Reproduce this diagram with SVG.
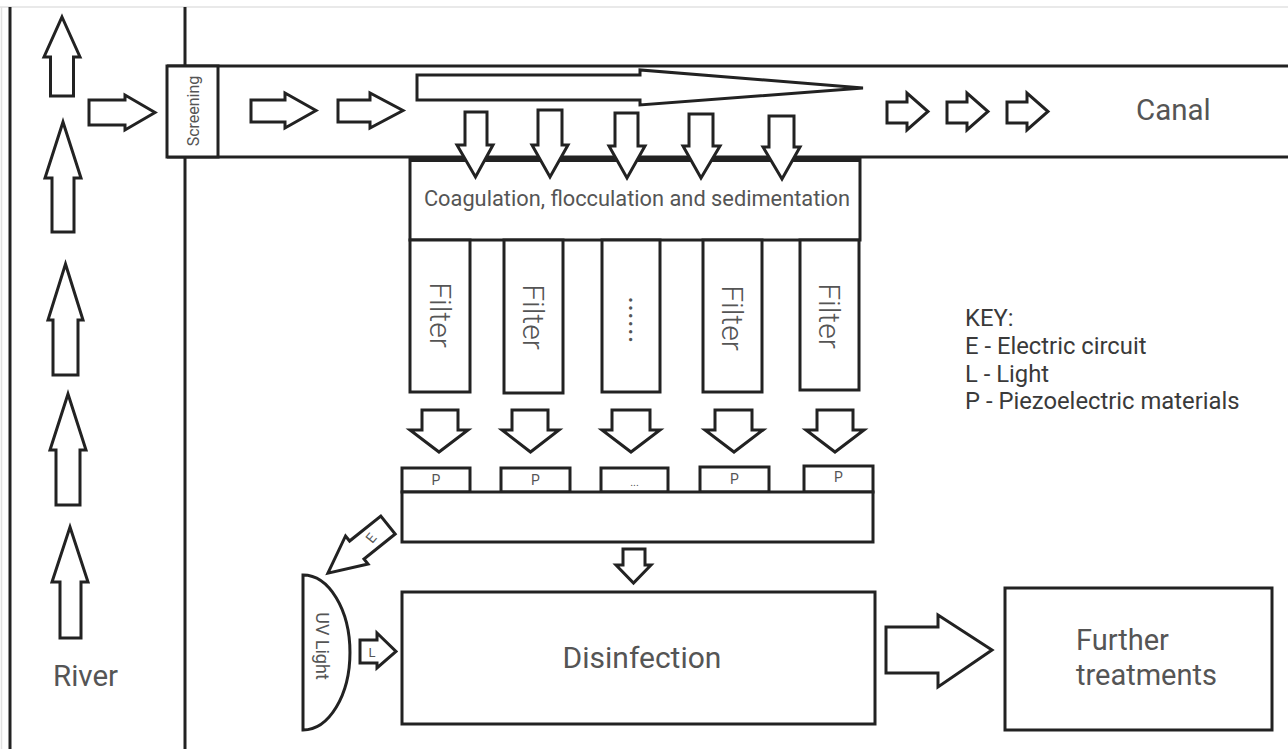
<svg xmlns="http://www.w3.org/2000/svg" width="1288" height="749" viewBox="0 0 1288 749">
<style>
  .ln { stroke:#222; stroke-width:3; fill:none; }
  .bx { stroke:#222; stroke-width:3; fill:#fff; }
  .ar { stroke:#222; stroke-width:3; fill:#fff; stroke-linejoin:miter; }
  .t { font-family:Roboto, "Liberation Sans", sans-serif; fill:#555; }
  .lt { font-weight:300; }
  .k { font-family:Roboto, "Liberation Sans", sans-serif; fill:#3a3a3a; font-size:23.8px; }
</style>
<rect width="1288" height="749" fill="#fff"/>
<line x1="0" y1="7" x2="1288" y2="7" stroke="#e2e2e2" stroke-width="1.5"/>
<line x1="1.5" y1="7" x2="1.5" y2="749" stroke="#e2e2e2" stroke-width="1.5"/>

<g id="river">
  <line class="ln" x1="10" y1="7" x2="10" y2="749"/>
  <line class="ln" x1="185" y1="7" x2="185" y2="749"/>
  <text class="t" x="53" y="686" font-size="29.5">River</text>
</g>

<g id="canal">
  <line class="ln" x1="167" y1="66" x2="1288" y2="66"/>
  <line class="ln" x1="167" y1="157" x2="1288" y2="157"/>
  <text class="t" x="1136" y="120" font-size="29.5">Canal</text>
</g>

<g id="screening">
  <rect class="bx" x="167" y="66" width="51" height="91"/>
  <text class="t" font-size="16" text-anchor="middle" transform="translate(193,111) rotate(-90)" y="5.7">Screening</text>
</g>

<g id="coagulation">
  <rect class="bx" x="410" y="159" width="450" height="81"/>
  <line x1="409" y1="159.5" x2="861" y2="159.5" stroke="#222" stroke-width="5"/>
  <text class="t" x="637" y="206" font-size="21.8" text-anchor="middle">Coagulation, flocculation and sedimentation</text>
</g>

<g id="filter1">
  <rect class="bx" x="410" y="240" width="60" height="152"/>
  <text class="t lt" font-size="30" text-anchor="middle" transform="translate(440,315) rotate(90)" y="10.5">Filter</text>
</g>
<g id="filter2">
  <rect class="bx" x="504" y="240" width="59" height="153"/>
  <text class="t lt" font-size="30" text-anchor="middle" transform="translate(533.5,317) rotate(90)" y="10.5">Filter</text>
</g>
<g id="filter3">
  <rect class="bx" x="602" y="240" width="58" height="152"/>
  <text class="t" font-size="30" text-anchor="middle" transform="translate(631,320) rotate(90)" y="2">......</text>
</g>
<g id="filter4">
  <rect class="bx" x="703" y="240" width="59" height="152"/>
  <text class="t lt" font-size="30" text-anchor="middle" transform="translate(732.5,318) rotate(90)" y="10.5">Filter</text>
</g>
<g id="filter5">
  <rect class="bx" x="800" y="240" width="59" height="150"/>
  <text class="t lt" font-size="30" text-anchor="middle" transform="translate(829.5,316) rotate(90)" y="10.5">Filter</text>
</g>

<g id="piezo">
  <rect class="bx" x="402" y="468" width="68" height="24"/>
  <rect class="bx" x="501" y="468" width="69" height="24"/>
  <rect class="bx" x="601" y="468" width="67" height="24"/>
  <rect class="bx" x="700" y="467" width="69" height="25"/>
  <rect class="bx" x="804" y="466" width="69" height="26"/>
  <rect class="bx" x="402" y="492" width="471" height="50"/>
  <text class="t" font-size="14" text-anchor="middle" x="436" y="485">P</text>
  <text class="t" font-size="14" text-anchor="middle" x="535.5" y="485">P</text>
  <text class="t" font-size="11" text-anchor="middle" x="634.5" y="486" fill="#999">...</text>
  <text class="t" font-size="14" text-anchor="middle" x="734.5" y="484">P</text>
  <text class="t" font-size="14" text-anchor="middle" x="838.5" y="482">P</text>
</g>

<g id="uvlight">
  <path class="bx" d="M303,575 A47,77.5 0 0 1 303,730 Z"/>
  <text class="t" font-size="18" text-anchor="middle" transform="translate(322,646) rotate(90)" y="6.4">UV Light</text>
</g>

<g id="disinfection">
  <rect class="bx" x="402" y="592" width="473" height="132"/>
  <text class="t" x="642" y="668" font-size="30" text-anchor="middle">Disinfection</text>
</g>

<g id="further">
  <rect class="bx" x="1005" y="588" width="267" height="142"/>
  <text class="t" x="1076" y="650" font-size="29">Further</text>
  <text class="t" x="1076" y="685" font-size="29">treatments</text>
</g>

<g id="key">
  <text class="k" x="965" y="326">KEY:</text>
  <text class="k" x="965" y="354">E - Electric circuit</text>
  <text class="k" x="965" y="382">L - Light</text>
  <text class="k" x="965" y="409">P - Piezoelectric materials</text>
</g>

<g id="connectors">
  <polygon class="ar" points="62,17 80,57 73.5,57 73.5,96 50.5,96 50.5,57 44,57"/>
  <polygon class="ar" points="63,122 81,178 74,178 74,232 52,232 52,178 45,178"/>
  <polygon class="ar" points="65.5,264 83,320 78,320 78,375 53,375 53,320 48,320"/>
  <polygon class="ar" points="68,394 86,450 80,450 80,505 56,505 56,450 50,450"/>
  <polygon class="ar" points="70,527 88,582 81,582 81,638 60,638 60,582 52,582"/>
  <polygon class="ar" points="89,100 125,100 125,95 155,112.5 125,130 125,125 89,125"/>
  <polygon class="ar" points="251,100 285,100 285,93 316,110.5 285,128 285,122 251,122"/>
  <polygon class="ar" points="338,100 370,100 370,93 403,110.5 370,128 370,122 338,122"/>
  <polygon class="ar" points="417,75 640,75 640,70 863,88 640,105 640,100 417,100"/>
  <polygon class="ar" points="887,102 907,102 907,93 928,111.5 907,130 907,123 887,123"/>
  <polygon class="ar" points="947,102 967,102 967,93 988,111.5 967,130 967,123 947,123"/>
  <polygon class="ar" points="1007,102 1027,102 1027,93 1048,111.5 1027,130 1027,123 1007,123"/>
  <polygon class="ar" points="465,112 487,112 487,145 493,145 475.5,177 457,145 465,145"/>
  <polygon class="ar" points="538,110 562,110 562,145 568,145 550,177 532,145 538,145"/>
  <polygon class="ar" points="615,113 638,113 638,146 645,146 627,178 609,146 615,146"/>
  <polygon class="ar" points="689,114 713,114 713,146 720,146 701,178 683,146 689,146"/>
  <polygon class="ar" points="769,116 794,116 794,147 800,147 782,179 763,147 769,147"/>
  <polygon class="ar" points="422,410 458,410 458,430 468,430 439,452 410,430 422,430"/>
  <polygon class="ar" points="512,410 548,410 548,430 559,430 530.5,452 502,430 512,430"/>
  <polygon class="ar" points="612,410 650,410 650,430 660,430 631,452 602,430 612,430"/>
  <polygon class="ar" points="715,410 752,410 752,430 763,430 734,452 705,430 715,430"/>
  <polygon class="ar" points="817,410 853,410 853,430 864,430 835,452 806,430 817,430"/>
  <polygon class="ar" points="623,549 645,549 645,565 651,565 633.5,583 616,565 623,565"/>
  <g transform="translate(388,525) rotate(141.3)">
    <polygon class="ar" points="0,-11.5 40,-11.5 40,-18 77,0 40,18 40,11.5 0,11.5"/>
  </g>
  <text class="t" font-size="14" text-anchor="middle" transform="translate(371,538) rotate(-50)" y="5">E</text>
  <polygon class="ar" points="360,640 377,640 377,633 396,651.5 377,668 377,663 360,663"/>
  <text class="t" font-size="13" text-anchor="middle" x="372" y="657">L</text>
  <polygon class="ar" points="886,627 938,627 938,615 992,650 938,687 938,673 886,673"/>
</g>
</svg>
